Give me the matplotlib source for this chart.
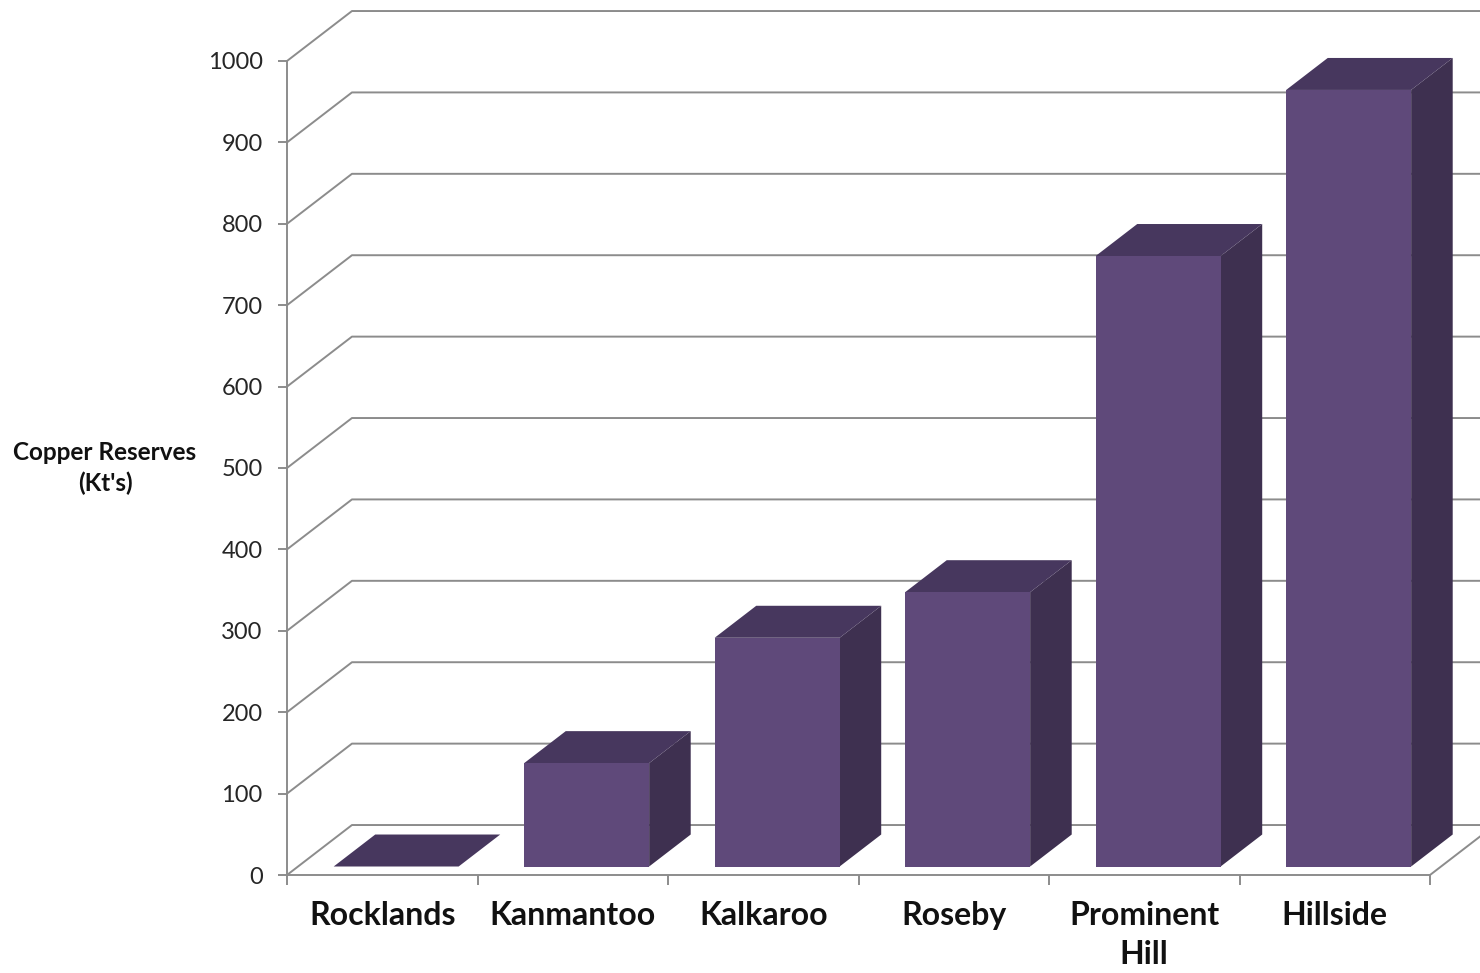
import matplotlib.pyplot as plt
import matplotlib.ticker as mticker

# data
mines = ['Rocklands', 'Kanmantoo', 'Kalkaroo', 'Roseby', 'Prominent\nHill', 'Hillside']
reserves = [0, 127, 281, 337, 750, 954]
y_ticks = list(range(0, 1001, 100))

plt.rcParams['font.family'] = ['Lato', 'DejaVu Sans']

front_col = '#5F497A'
top_col = '#47375E'
side_col = '#3E3050'
grid_col = '#8C8C8C'

# oblique 3D look, depth vector in data units
DX, DY = 0.341, 61.4
f0, f1 = 0.17, 0.81      # bar depth range (fraction of floor depth)
bar_w = 0.656

fig = plt.figure(figsize=(14.8, 9.73), dpi=100)
ax = fig.add_axes([287/1480, 98/973, 1143/1480, 814/973])
ax.set_xlim(0, 6)
ax.set_ylim(0, 1000)

# back wall gridlines with diagonal connectors
x_right = 6.5
for v in y_ticks:
    ax.plot([0, DX, x_right], [v, v + DY, v + DY], color=grid_col, lw=1.4,
            clip_on=False, zorder=1)
# right floor edge
ax.plot([6, 6 + DX], [0, DY], color=grid_col, lw=1.4, clip_on=False, zorder=1)

# bars
for i, v in enumerate(reserves):
    x0 = i + 0.515 - bar_w/2 + f0*DX
    x1 = x0 + bar_w
    y0 = f0*DY
    y1 = y0 + v
    ddx = (f1 - f0)*DX
    ddy = (f1 - f0)*DY
    # side face
    ax.fill([x1, x1 + ddx, x1 + ddx, x1], [y0, y0 + ddy, y1 + ddy, y1],
            color=side_col, lw=0, zorder=3, clip_on=False)
    # top face
    ax.fill([x0, x1, x1 + ddx, x0 + ddx], [y1, y1, y1 + ddy, y1 + ddy],
            color=top_col, lw=0, zorder=3, clip_on=False)
    # front face
    if v > 0:
        ax.fill([x0, x1, x1, x0], [y0, y0, y1, y1],
                color=front_col, lw=0, zorder=4, clip_on=False)

# axes styling
for s in ['top', 'right']:
    ax.spines[s].set_visible(False)
for s in ['left', 'bottom']:
    ax.spines[s].set_color(grid_col)
    ax.spines[s].set_linewidth(1.4)
    ax.spines[s].set_zorder(2)

ax.set_yticks(y_ticks)
ax.tick_params(axis='y', length=6.5, width=1.4, color=grid_col, pad=11,
               labelsize=17, labelcolor='#262626')

ax.set_xticks(range(0, 7))
ax.xaxis.set_major_formatter(mticker.NullFormatter())
ax.set_xticks([i + 0.5 for i in range(len(mines))], minor=True)
ax.set_xticklabels(mines, minor=True, fontsize=23, fontweight='bold',
                   linespacing=1.4)
ax.tick_params(axis='x', which='major', length=7.5, width=1.4, color=grid_col)
ax.tick_params(axis='x', which='minor', length=0, pad=19, labelcolor='#111111')
ax.patch.set_alpha(0)

fig.text(105/1480, 1 - 468/973, "Copper Reserves\n(Kt's)", ha='center',
         va='center', fontsize=17.5, fontweight='bold', color='#111111',
         linespacing=1.4)

fig.savefig('out.png', dpi=100)
